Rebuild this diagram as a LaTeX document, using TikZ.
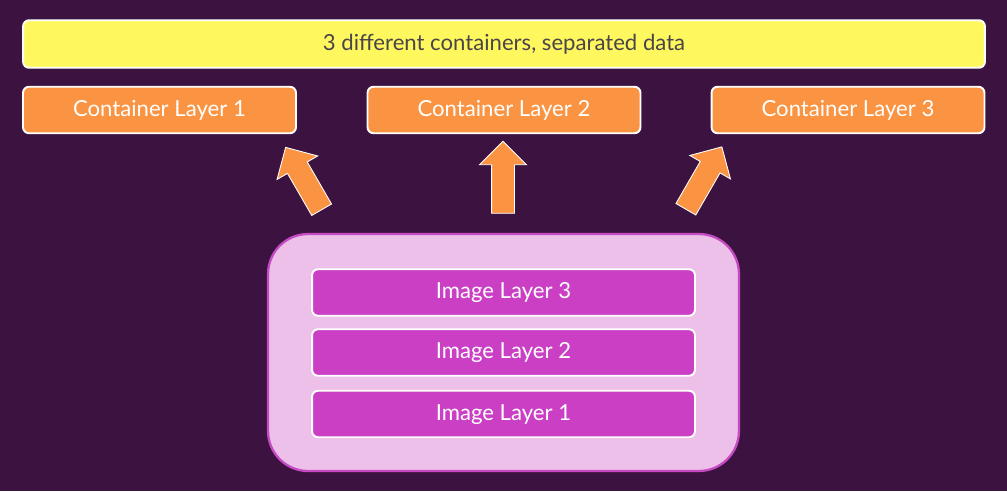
\documentclass[tikz,border=0pt]{standalone}
\usepackage{fontspec}
\setmainfont{Lato}
\usepackage{xcolor}
\usetikzlibrary{shapes.arrows}
\definecolor{bgplum}{HTML}{3C1240}
\definecolor{titleyellow}{HTML}{FFF75E}
\definecolor{contorange}{HTML}{FA9442}
\definecolor{imgpink}{HTML}{ECC0E9}
\definecolor{imgmagenta}{HTML}{CA3FC4}
\definecolor{imgborder}{HTML}{C64BC3}
\definecolor{textgrey}{HTML}{4A4548}
\tikzset{
  box/.style={draw=white, line width=1.1pt, rounded corners=0.12cm,
    minimum height=0.93cm, font=\fontsize{12.6}{14}\selectfont, text=white,
    text height=0.72em, text depth=0pt},
  titlebox/.style={box, fill=titleyellow, text=textgrey, minimum width=19.24cm, minimum height=0.95cm},
  contbox/.style={box, fill=contorange, minimum width=5.46cm},
  layerbox/.style={box, fill=imgmagenta, minimum width=7.66cm},
  upblock/.style={single arrow, draw=white, line width=0.5pt, fill=contorange,
    inner xsep=0pt, inner ysep=0.22cm, minimum height=1.44cm, minimum width=0.92cm,
    single arrow head extend=0.24cm, single arrow head indent=0pt}
}
\begin{document}
\begin{tikzpicture}[x=0.02cm,y=-0.02cm]
      \fill[bgplum] (0,0) rectangle (1007,491);
      \useasboundingbox (0,0) rectangle (1007,491);
      \node[titlebox] at (504,44) (title) {3 different containers, separated data};
      \node[contbox] at (159.5,110) (cont1) {Container Layer 1};
      \node[contbox] at (504,110) (cont2) {Container Layer 2};
      \node[contbox] at (848,110) (cont3) {Container Layer 3};
      \node[draw=imgborder, line width=1.3pt, fill=imgpink, rounded corners=0.8cm,
        minimum width=9.42cm, minimum height=4.74cm] at (503.5,352.5) (image) {};
      \node[layerbox] at (503.5,292.5) (layer3) {Image Layer 3};
      \node[layerbox] at (503.5,352.5) (layer2) {Image Layer 2};
      \node[layerbox] at (503.5,414) (layer1) {Image Layer 1};
      \node[upblock, rotate=120] at (306.5,183.5) (arr1) {};
      \node[upblock, rotate=90] at (503,183) (arr2) {};
      \node[upblock, rotate=60] at (701,183) (arr3) {};
\end{tikzpicture}
\end{document}
